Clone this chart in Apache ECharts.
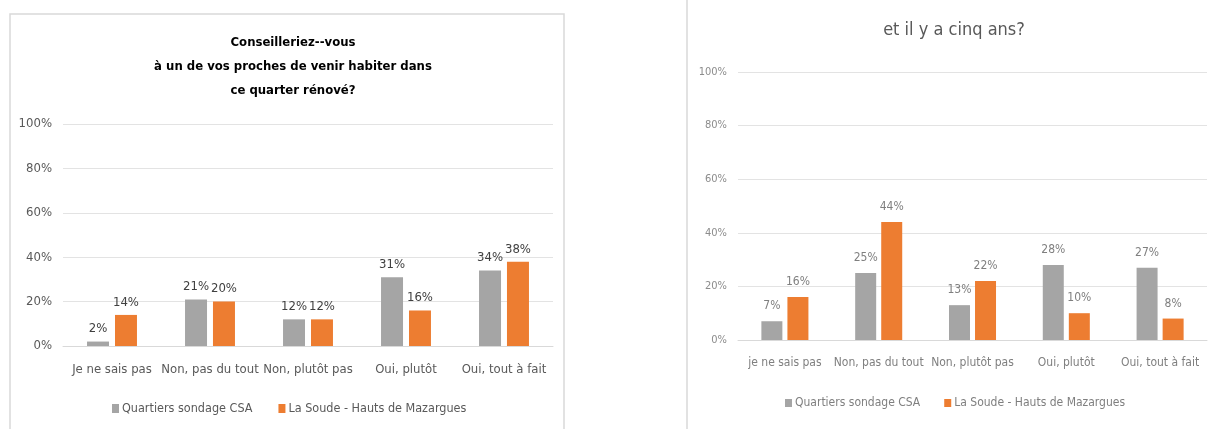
<!DOCTYPE html>
<html>
<head>
<meta charset="utf-8">
<script src="https://cdn.jsdelivr.net/npm/echarts@6/dist/echarts.min.js"></script>
<style>
	html, body { margin: 0; padding: 0; background: #fff; }
	#chart { width: 1209px; height: 429px; }
</style>
</head>
<body>
<div id="chart"></div>
<script>
// data
var categoriesNow = ['Je ne sais pas', 'Non, pas du tout', 'Non, plutôt pas', 'Oui, plutôt', 'Oui, tout à fait'];
var categoriesBefore = ['je ne sais pas', 'Non, pas du tout', 'Non, plutôt pas', 'Oui, plutôt', 'Oui, tout à fait'];
var csaNow = [2, 21, 12, 31, 34];
var soudeNow = [14, 20, 12, 16, 38];
var csaBefore = [7, 25, 13, 28, 27];
var soudeBefore = [16, 44, 22, 10, 8];
var seriesNames = ['Quartiers sondage CSA', 'La Soude - Hauts de Mazargues'];

var FONT = '"Liberation Sans Narrow", "DejaVu Sans Condensed", sans-serif';
var GREY = '#a5a5a5';
var ORANGE = '#ed7d31';

var chart = echarts.init(document.getElementById('chart'));

function yAxis(idx, size, color) {
	return {
		type: 'value',
		gridIndex: idx,
		min: 0,
		max: 100,
		interval: 20,
		axisLine: { show: false },
		axisTick: { show: false },
		axisLabel: { formatter: '{value}%', fontFamily: FONT, fontSize: size, color: color, margin: 11 },
		splitLine: { lineStyle: { color: '#e3e3e3', width: 1 } }
	};
}

function xAxis(idx, cats, size, color, margin) {
	return {
		type: 'category',
		gridIndex: idx,
		data: cats,
		axisTick: { show: false },
		axisLine: { lineStyle: { color: '#d9d9d9', width: 1 } },
		axisLabel: { fontFamily: FONT, fontSize: size, color: color, margin: margin, interval: 0 }
	};
}

function bar(name, data, idx, color, size, labelColor) {
	return {
		name: name,
		type: 'bar',
		xAxisIndex: idx,
		yAxisIndex: idx,
		data: data,
		barWidth: idx === 0 ? 22 : 21,
		barGap: idx === 0 ? '27%' : '24%',
		itemStyle: { color: color },
		label: {
			show: true,
			position: 'top',
			distance: idx === 0 ? 6 : 9,
			formatter: '{c}%',
			fontFamily: FONT,
			fontSize: size,
			color: labelColor
		}
	};
}

var option = {
	animation: false,
	title: [
		{
			text: 'Conseilleriez--vous\nà un de vos proches de venir habiter dans\nce quarter rénové?',
			left: 288,
			top: 26,
			textAlign: 'center',
			textStyle: { fontFamily: FONT, fontSize: 13, fontWeight: 'bold', color: '#000', lineHeight: 24 }
		},
		{
			text: 'et il y a cinq ans?',
			left: 949,
			top: 16,
			textAlign: 'center',
			textStyle: { fontFamily: FONT, fontSize: 18, fontWeight: 'normal', color: '#595959' }
		}
	],
	legend: [
		{
			data: seriesNames,
			left: 107,
			top: 397,
			icon: 'rect',
			itemWidth: 7,
			itemHeight: 9,
			itemGap: 26,
			textStyle: { fontFamily: FONT, fontSize: 12.5, color: '#595959', padding: [0, 0, 0, -2] }
		},
		{
			data: seriesNames,
			left: 780,
			top: 392,
			icon: 'rect',
			itemWidth: 7,
			itemHeight: 8,
			itemGap: 24,
			textStyle: { fontFamily: FONT, fontSize: 12, color: '#7f7f7f', padding: [0, 0, 0, -2] }
		}
	],
	grid: [
		{ left: 63, width: 490, top: 124, height: 222 },
		{ left: 738, width: 469, top: 72, height: 268 }
	],
	xAxis: [
		xAxis(0, categoriesNow, 13, '#595959', 17),
		xAxis(1, categoriesBefore, 12, '#7f7f7f', 17)
	],
	yAxis: [
		yAxis(0, 13, '#595959'),
		yAxis(1, 11, '#8c8c8c')
	],
	series: [
		bar(seriesNames[0], csaNow, 0, GREY, 13, '#404040'),
		bar(seriesNames[1], soudeNow, 0, ORANGE, 13, '#404040'),
		bar(seriesNames[0], csaBefore, 1, GREY, 12, '#7f7f7f'),
		bar(seriesNames[1], soudeBefore, 1, ORANGE, 12, '#7f7f7f')
	],
	graphic: [
		// frame round the left chart
		{
			type: 'rect',
			shape: { x: 10, y: 14, width: 554, height: 430 },
			style: { fill: null, stroke: '#d9d9d9', lineWidth: 1.5 },
			silent: true
		},
		// left edge of the right chart
		{
			type: 'line',
			shape: { x1: 687, y1: 0, x2: 687, y2: 429 },
			style: { stroke: '#d9d9d9', lineWidth: 1.5 },
			silent: true
		}
	]
};

chart.setOption(option);
</script>
</body>
</html>
